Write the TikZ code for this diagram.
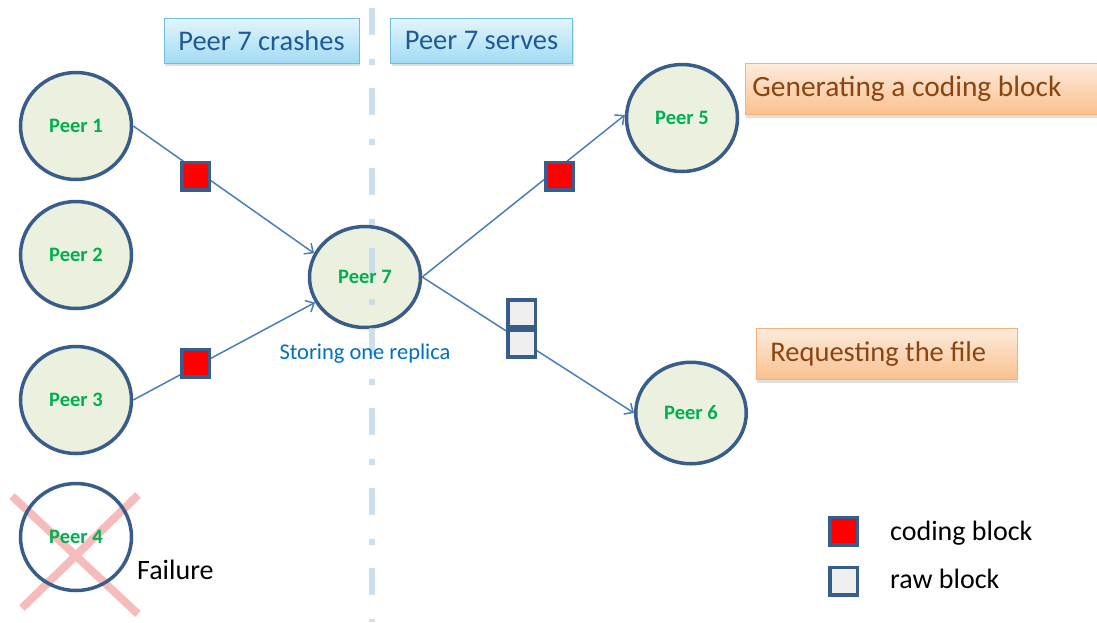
\documentclass[tikz,border=0pt]{standalone}
\usepackage{fontspec}
\setmainfont{Carlito}
\usetikzlibrary{shapes.geometric,arrows.meta,shadows}

\definecolor{peerfill}{HTML}{EBF1DE}
\definecolor{peerline}{HTML}{385D8A}
\definecolor{peertext}{HTML}{00B050}
\definecolor{linkblue}{HTML}{4A7EBB}
\definecolor{sepblue}{HTML}{C3D9EC}
\definecolor{rawfill}{HTML}{EFEFEF}
\definecolor{storeblue}{HTML}{0070C0}
\definecolor{crosspink}{HTML}{F6BCBC}
\definecolor{tagtop}{HTML}{E2F5FC}
\definecolor{tagbottom}{HTML}{A2DBF3}
\definecolor{tagline}{HTML}{72BCE0}
\definecolor{tagtext}{HTML}{1F5A96}
\definecolor{notetop}{HTML}{FDEBDC}
\definecolor{notebottom}{HTML}{FAC08F}
\definecolor{noteline}{HTML}{F6B07A}
\definecolor{notetext}{HTML}{8A4510}

\tikzset{
  peer/.style={ellipse, draw=peerline, line width=3.5pt, fill=peerfill,
    minimum width=111, minimum height=107, inner sep=0pt,
    text=peertext, font=\fontsize{20.5}{22}\selectfont\bfseries},
  peerlabel/.style={inner sep=0pt, text=peertext, font=\fontsize{20.5}{22}\selectfont\bfseries},
  link/.style={draw=linkblue, line width=1.5pt, -{Straight Barb[length=7pt,width=13pt]}},
  cblock/.style={rectangle, draw=peerline, line width=3.5pt, fill=red,
    minimum size=27.5, inner sep=0pt},
  rblock/.style={rectangle, draw=peerline, line width=3.5pt, fill=rawfill,
    minimum width=27.5, minimum height=27, inner sep=0pt},
  sepline/.style={draw=sepblue, line width=6pt, opacity=0.85,
    dash pattern=on 27pt off 24pt on 6pt off 23pt},
  crossline/.style={draw=crosspink, line width=8pt},
  tagbox/.style={rectangle, draw=tagline, line width=0.8pt,
    top color=tagtop, bottom color=tagbottom, inner sep=0pt,
    minimum height=45, text=tagtext, font=\fontsize{28.5}{30}\selectfont,
    drop shadow={shadow xshift=1pt, shadow yshift=-3pt, opacity=0.25}},
  notebox/.style={rectangle, draw=noteline, line width=0.8pt,
    top color=notetop, bottom color=notebottom, inner ysep=0pt,
    minimum height=51, text=notetext, font=\fontsize{28.5}{30}\selectfont,
    align=flush left, anchor=west,
    drop shadow={shadow xshift=1pt, shadow yshift=-3pt, opacity=0.25}},
  plain/.style={inner sep=0pt, font=\fontsize{28}{30}\selectfont},
}

\begin{document}
\begin{tikzpicture}[x=1pt, y=-1pt]
\useasboundingbox (0,0) rectangle (1097,622);
\clip (0,0) rectangle (1097,622);

% phase tags above the separator
\node[tagbox, minimum width=195] (crash) at (261.5,40.5) {Peer 7 crashes};
\node[tagbox, minimum width=182] (serve) at (481.5,40.5) {Peer 7 serves};

% failed peer: cross behind the ring
\coordinate (xa) at (12,496);
\coordinate (xb) at (138,614);
\coordinate (xc) at (138,495);
\coordinate (xd) at (22,608);
\draw[crossline] (xa) -- (xb);
\draw[crossline] (xc) -- (xd);

% peers
\node[peer] (p1) at (76,126) {Peer 1};
\node[peer] (p2) at (76,255) {Peer 2};
\node[peer] (p3) at (76,400) {Peer 3};
\node[peer, fill=none] (p4) at (76,537) {Peer 4};
\node[peer, minimum width=111, minimum height=101] (p7) at (365,277) {};
\node[peer] (p5) at (682,118) {Peer 5};
\node[peer, minimum width=110.5, minimum height=101.5] (p6) at (691,413) {Peer 6};

% phase separator
\coordinate (septop) at (372,8);
\coordinate (sepbot) at (372,622);
\draw[sepline] (septop) -- (sepbot);

\node[peerlabel] (p7label) at (p7.center) {Peer 7};

% transfers
\draw[link] (p1.east) -- (p7.155);
\draw[link] (p3.east) -- (p7.207);
\draw[link] (p7.east) -- (p5.177);
\draw[link] (p7.east) -- (p6.180);

% blocks in transit
\node[cblock] (b1) at (195.5,176) {};
\node[cblock] (b3) at (195.5,363) {};
\node[cblock] (b5) at (559.5,176) {};
\node[rblock] (r1) at (521.5,313.5) {};
\node[rblock] (r2) at (521.5,343.5) {};

% annotations
\node[inner sep=0pt, text=storeblue, font=\fontsize{22.5}{24}\selectfont] (store) at (365,354) {Storing one replica};
\node[plain, anchor=base west] (fail) at (137,579) {Failure};

\node[notebox, minimum width=360, text width=346, inner xsep=7pt, font=\fontsize{29.4}{31}\selectfont] (gen) at (745,89) {Generating a coding block};
\node[notebox, minimum width=261, text width=233, inner xsep=14pt] (req) at (756,354) {Requesting the file};

% legend
\node[cblock] (lc) at (843.5,531) {};
\node[rblock, minimum height=27.5] (lr) at (843.5,581) {};
\node[plain, anchor=base west] (lctext) at (890,540) {coding block};
\node[plain, anchor=base west] (lrtext) at (890,588) {raw block};
\end{tikzpicture}
\end{document}
